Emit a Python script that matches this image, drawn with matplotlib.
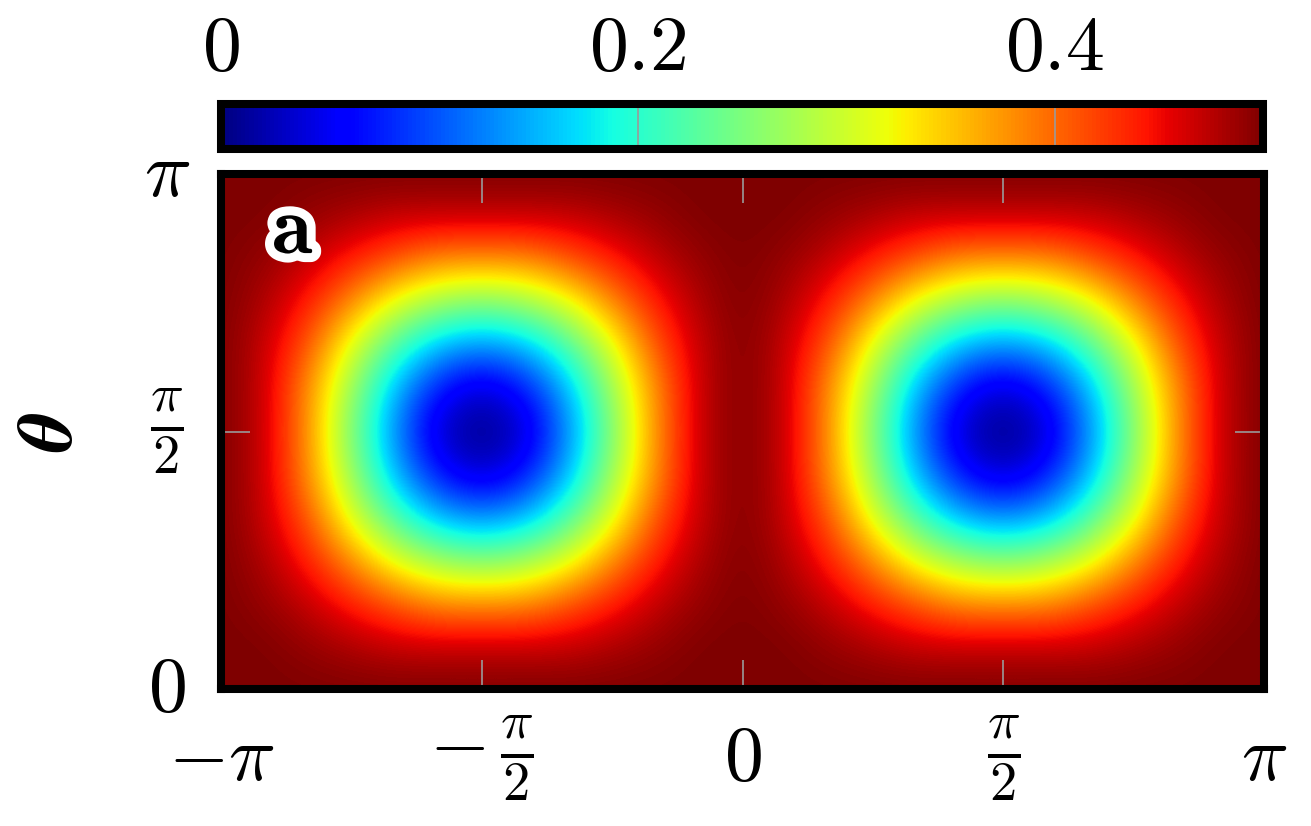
"""Heatmap of the order parameter over (phi, theta) with a jet colour bar."""

import matplotlib

matplotlib.use("Agg")
import matplotlib.pyplot as plt  # noqa: E402
import matplotlib.patheffects as pe  # noqa: E402
import numpy as np  # noqa: E402

plt.rcParams["mathtext.fontset"] = "cm"
plt.rcParams["font.family"] = ["DejaVu Serif"]

# Sample grid (phi and theta in steps of pi/12).
phi = np.arange(-12, 13) * np.pi / 12
theta = np.arange(0, 13) * np.pi / 12
values = np.array([
    [0.50, 0.50, 0.50, 0.50, 0.50, 0.50, 0.50, 0.50, 0.50, 0.50, 0.50, 0.50, 0.50,
     0.50, 0.50, 0.50, 0.50, 0.50, 0.50, 0.50, 0.50, 0.50, 0.50, 0.50, 0.50],
    [0.50, 0.50, 0.49, 0.48, 0.47, 0.47, 0.47, 0.47, 0.47, 0.48, 0.49, 0.50, 0.50,
     0.50, 0.49, 0.48, 0.47, 0.47, 0.47, 0.47, 0.47, 0.48, 0.49, 0.50, 0.50],
    [0.50, 0.49, 0.47, 0.44, 0.41, 0.38, 0.38, 0.38, 0.41, 0.44, 0.47, 0.49, 0.50,
     0.49, 0.47, 0.44, 0.41, 0.38, 0.38, 0.38, 0.41, 0.44, 0.47, 0.49, 0.50],
    [0.50, 0.48, 0.44, 0.38, 0.31, 0.27, 0.25, 0.27, 0.31, 0.38, 0.44, 0.48, 0.50,
     0.48, 0.44, 0.38, 0.31, 0.27, 0.25, 0.27, 0.31, 0.38, 0.44, 0.48, 0.50],
    [0.50, 0.47, 0.41, 0.31, 0.22, 0.15, 0.13, 0.15, 0.22, 0.31, 0.41, 0.47, 0.50,
     0.47, 0.41, 0.31, 0.22, 0.15, 0.13, 0.15, 0.22, 0.31, 0.41, 0.47, 0.50],
    [0.50, 0.47, 0.38, 0.27, 0.15, 0.07, 0.03, 0.07, 0.15, 0.27, 0.38, 0.47, 0.50,
     0.47, 0.38, 0.27, 0.15, 0.07, 0.03, 0.07, 0.15, 0.27, 0.38, 0.47, 0.50],
    [0.50, 0.47, 0.38, 0.25, 0.13, 0.03, 0.00, 0.03, 0.13, 0.25, 0.38, 0.47, 0.50,
     0.47, 0.38, 0.25, 0.13, 0.03, 0.00, 0.03, 0.13, 0.25, 0.38, 0.47, 0.50],
    [0.50, 0.47, 0.38, 0.27, 0.15, 0.07, 0.03, 0.07, 0.15, 0.27, 0.38, 0.47, 0.50,
     0.47, 0.38, 0.27, 0.15, 0.07, 0.03, 0.07, 0.15, 0.27, 0.38, 0.47, 0.50],
    [0.50, 0.47, 0.41, 0.31, 0.22, 0.15, 0.13, 0.15, 0.22, 0.31, 0.41, 0.47, 0.50,
     0.47, 0.41, 0.31, 0.22, 0.15, 0.13, 0.15, 0.22, 0.31, 0.41, 0.47, 0.50],
    [0.50, 0.48, 0.44, 0.38, 0.31, 0.27, 0.25, 0.27, 0.31, 0.38, 0.44, 0.48, 0.50,
     0.48, 0.44, 0.38, 0.31, 0.27, 0.25, 0.27, 0.31, 0.38, 0.44, 0.48, 0.50],
    [0.50, 0.49, 0.47, 0.44, 0.41, 0.38, 0.38, 0.38, 0.41, 0.44, 0.47, 0.49, 0.50,
     0.49, 0.47, 0.44, 0.41, 0.38, 0.38, 0.38, 0.41, 0.44, 0.47, 0.49, 0.50],
    [0.50, 0.50, 0.49, 0.48, 0.47, 0.47, 0.47, 0.47, 0.47, 0.48, 0.49, 0.50, 0.50,
     0.50, 0.49, 0.48, 0.47, 0.47, 0.47, 0.47, 0.47, 0.48, 0.49, 0.50, 0.50],
    [0.50, 0.50, 0.50, 0.50, 0.50, 0.50, 0.50, 0.50, 0.50, 0.50, 0.50, 0.50, 0.50,
     0.50, 0.50, 0.50, 0.50, 0.50, 0.50, 0.50, 0.50, 0.50, 0.50, 0.50, 0.50],
])

x_ticks = [-np.pi, -np.pi / 2, 0, np.pi / 2, np.pi]
x_labels = [r"$-\pi$", r"$-\,\frac{\pi}{2}$", r"$0$", r"$\frac{\pi}{2}$", r"$\pi$"]
y_ticks = [0, np.pi / 2, np.pi]
y_labels = [r"$0$", r"$\frac{\pi}{2}$", r"$\pi$"]
cbar_ticks = [0, 0.2, 0.4]
cbar_labels = [r"$0$", r"$0.2$", r"$0.4$"]

FS = 56
SPINE = 5.8
TICK_GREY = "#9a9a9a"

fig = plt.figure(figsize=(13.11, 8.26), dpi=100)
ax = fig.add_axes([221 / 1311, 1 - 689 / 826, 1043 / 1311, 515 / 826])
cax = fig.add_axes([221 / 1311, 1 - 149 / 826, 1042 / 1311, 45 / 826])

dphi = phi[1] - phi[0]
dtheta = theta[1] - theta[0]
im = ax.imshow(
    values,
    origin="lower",
    cmap="jet",
    vmin=0,
    vmax=0.5,
    interpolation="bicubic",
    aspect="auto",
    extent=[phi[0] - dphi / 2, phi[-1] + dphi / 2,
            theta[0] - dtheta / 2, theta[-1] + dtheta / 2],
)
ax.set_xlim(-np.pi, np.pi)
ax.set_ylim(0, np.pi)

ax.set_xticks(x_ticks)
ax.set_xticklabels(x_labels)
ax.set_yticks(y_ticks)
ax.set_yticklabels(y_labels)
ax.tick_params(direction="in", length=21, width=1.2, color=TICK_GREY,
               top=True, right=True, labelsize=FS)
ax.tick_params(axis="x", pad=50)
ax.tick_params(axis="y", pad=39)
for lbl in ax.get_xticklabels():
    lbl.set_va("center")
for lbl in ax.get_yticklabels():
    lbl.set_ha("center")
    lbl.set_va("center")
for spine in ax.spines.values():
    spine.set_linewidth(SPINE)

ax.set_ylabel(r"$\boldsymbol{\theta}$", fontsize=FS, rotation=90,
              va="center", ha="center")
ax.yaxis.set_label_coords(-0.164, 0.5)

ax.text(0.069, 0.89, r"$\mathbf{a}$", transform=ax.transAxes, fontsize=60,
        ha="center", va="center", color="black",
        path_effects=[pe.withStroke(linewidth=13, foreground="white")])

cbar = fig.colorbar(im, cax=cax, orientation="horizontal", ticks=cbar_ticks)
cax.xaxis.set_ticks_position("top")
cax.xaxis.set_label_position("top")
cax.set_xticklabels(cbar_labels)
cax.tick_params(direction="in", length=33, width=1.2, color=TICK_GREY,
                labelsize=FS, pad=40)
for lbl in cax.get_xticklabels():
    lbl.set_va("center")
cbar.outline.set_linewidth(SPINE)

fig.savefig("out.png", dpi=100)
